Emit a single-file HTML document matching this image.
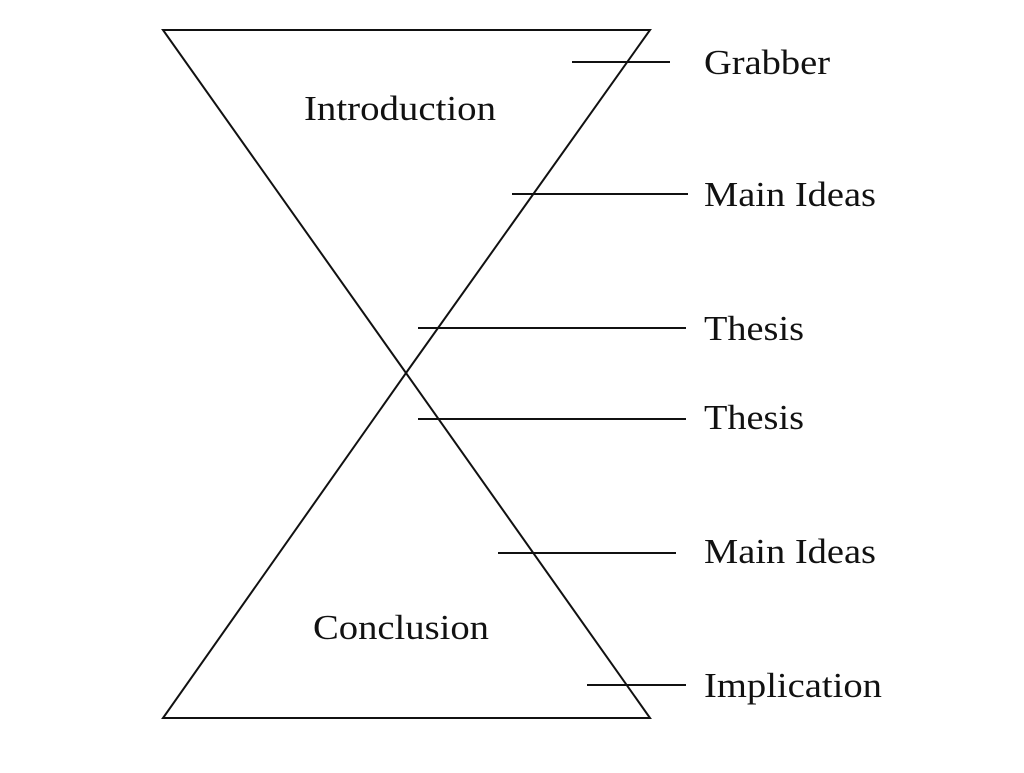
<!DOCTYPE html>
<html><head><meta charset="utf-8"><style>
html,body{margin:0;padding:0;background:#fff;}
svg text{font-family:"Liberation Serif",serif;font-size:35px;fill:#111;}
</style></head><body>
<svg width="1024" height="768" viewBox="0 0 1024 768" xmlns="http://www.w3.org/2000/svg">
<g stroke="#111" stroke-width="2" fill="none">
<polygon points="163,30 650,30 406,373"/>
<polygon points="163,718 650,718 406,373"/>
<line x1="572" y1="62" x2="670" y2="62"/>
<line x1="512" y1="194" x2="688" y2="194"/>
<line x1="418" y1="328" x2="686" y2="328"/>
<line x1="418" y1="419" x2="686" y2="419"/>
<line x1="498" y1="553" x2="676" y2="553"/>
<line x1="587" y1="685" x2="686" y2="685"/>
</g>
<text x="400" y="120" text-anchor="middle" textLength="192" lengthAdjust="spacingAndGlyphs">Introduction</text>
<text x="401" y="639" text-anchor="middle" textLength="176" lengthAdjust="spacingAndGlyphs">Conclusion</text>
<text x="704" y="74" textLength="126" lengthAdjust="spacingAndGlyphs">Grabber</text>
<text x="704" y="206" textLength="172" lengthAdjust="spacingAndGlyphs">Main Ideas</text>
<text x="704" y="340" textLength="100" lengthAdjust="spacingAndGlyphs">Thesis</text>
<text x="704" y="429" textLength="100" lengthAdjust="spacingAndGlyphs">Thesis</text>
<text x="704" y="563" textLength="172" lengthAdjust="spacingAndGlyphs">Main Ideas</text>
<text x="704" y="697" textLength="178" lengthAdjust="spacingAndGlyphs">Implication</text>
</svg>
</body></html>
